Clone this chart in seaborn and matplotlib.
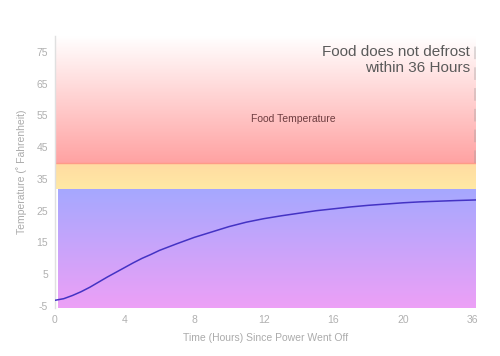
import numpy as np
import pandas as pd
import seaborn as sns
from matplotlib import pyplot as plt
from matplotlib.colors import to_rgb

# chart data (x is the plotting position, the last tick is labelled 36)
hours = [0, 0.5, 1, 1.5, 2, 2.5, 3, 3.5, 4, 4.5, 5, 5.5, 6, 7, 8, 9, 10, 11, 12,
         13, 14, 15, 16, 17, 18, 19, 20, 21, 22, 23, 24.2]
temps = [-3.2, -2.7, -1.7, -0.5, 0.9, 2.5, 4.1, 5.6, 7.1, 8.6, 10.0, 11.2, 12.5, 14.6, 16.6,
         18.3, 20.0, 21.4, 22.5, 23.4, 24.2, 25.0, 25.6, 26.2, 26.7, 27.1, 27.5, 27.8, 28.0,
         28.2, 28.4]
xticks = [0, 4, 8, 12, 16, 20, 24]
xtick_labels = ['0', '4', '8', '12', '16', '20', '36']
yticks = [-5, 5, 15, 25, 35, 45, 55, 65, 75]

# temperature zones (lower, upper, top colour, bottom colour)
zones = [
    (40, 80, '#ffffff', '#ffa2a2'),
    (32, 40, '#ffdba2', '#ffe9a4'),
    (-5.5, 32, '#a5a8ff', '#eda0f6'),
]

sns.set_style('white')
plt.rcParams['font.family'] = ['Liberation Sans', 'DejaVu Sans']
plt.rcParams['axes.unicode_minus'] = False

df = pd.DataFrame({'hours': hours, 'temp': temps})

fig = plt.figure(figsize=(5, 3.56), dpi=100)
ax = fig.add_axes([0.11, 0.136, 0.842, 0.7626])

xmax = 24.2
ymin, ymax = -5.5, 80

# one background image, each row coloured by its zone gradient
rows = np.linspace(ymax, ymin, 900)
img = np.ones((len(rows), 1, 3))
for lo, hi, c_top, c_bot in zones:
    sel = (rows >= lo) & (rows <= hi)
    t = ((rows[sel] - lo) / (hi - lo))[:, None]
    img[sel, 0, :] = np.array(to_rgb(c_bot)) * (1 - t) + np.array(to_rgb(c_top)) * t
ax.imshow(img, aspect='auto', extent=[0, xmax, ymin, ymax], zorder=0, interpolation='nearest')
ax.fill_between([0, 0.17], ymin, 32, color='white', lw=0, zorder=0.5)

ax.axhline(40, color='#ff9a88', lw=1.0, zorder=1)
ax.axvline(xmax - 0.05, color='#999999', alpha=0.35, lw=1.3, ls=(0, (7, 4.5)),
           ymin=(40 - ymin) / (ymax - ymin), ymax=0.98, zorder=1)

sns.lineplot(data=df, x='hours', y='temp', ax=ax, color='#4433c4', lw=1.1, zorder=3)

ax.set_xlim(0, xmax)
ax.set_ylim(ymin, ymax)
ax.set_xticks(xticks)
ax.set_xticklabels(xtick_labels)
ax.set_yticks(yticks)
ax.tick_params(axis='both', length=0, labelsize=7.5, labelcolor='#b0b0b0', pad=5)

for side in ['top', 'right', 'bottom']:
    ax.spines[side].set_visible(False)
ax.spines['left'].set_color('#e0e0e0')
ax.spines['left'].set_linewidth(1.0)

ax.set_xlabel('Time (Hours) Since Power Went Off', fontsize=7.5, color='#ababab', labelpad=6)
ax.set_ylabel('Temperature (\u02da Fahrenheit)', fontsize=7.5, color='#ababab', labelpad=7)

ax.text(13.7, 54, 'Food Temperature', fontsize=7.5, color='#6e3d40', ha='center', va='center', zorder=4)
ax.text(23.85, 72.5, 'Food does not defrost\nwithin 36 Hours', fontsize=11, color='#5a5a5a',
        ha='right', va='center', linespacing=1.2, zorder=4)

plt.savefig('out.png', dpi=100)
